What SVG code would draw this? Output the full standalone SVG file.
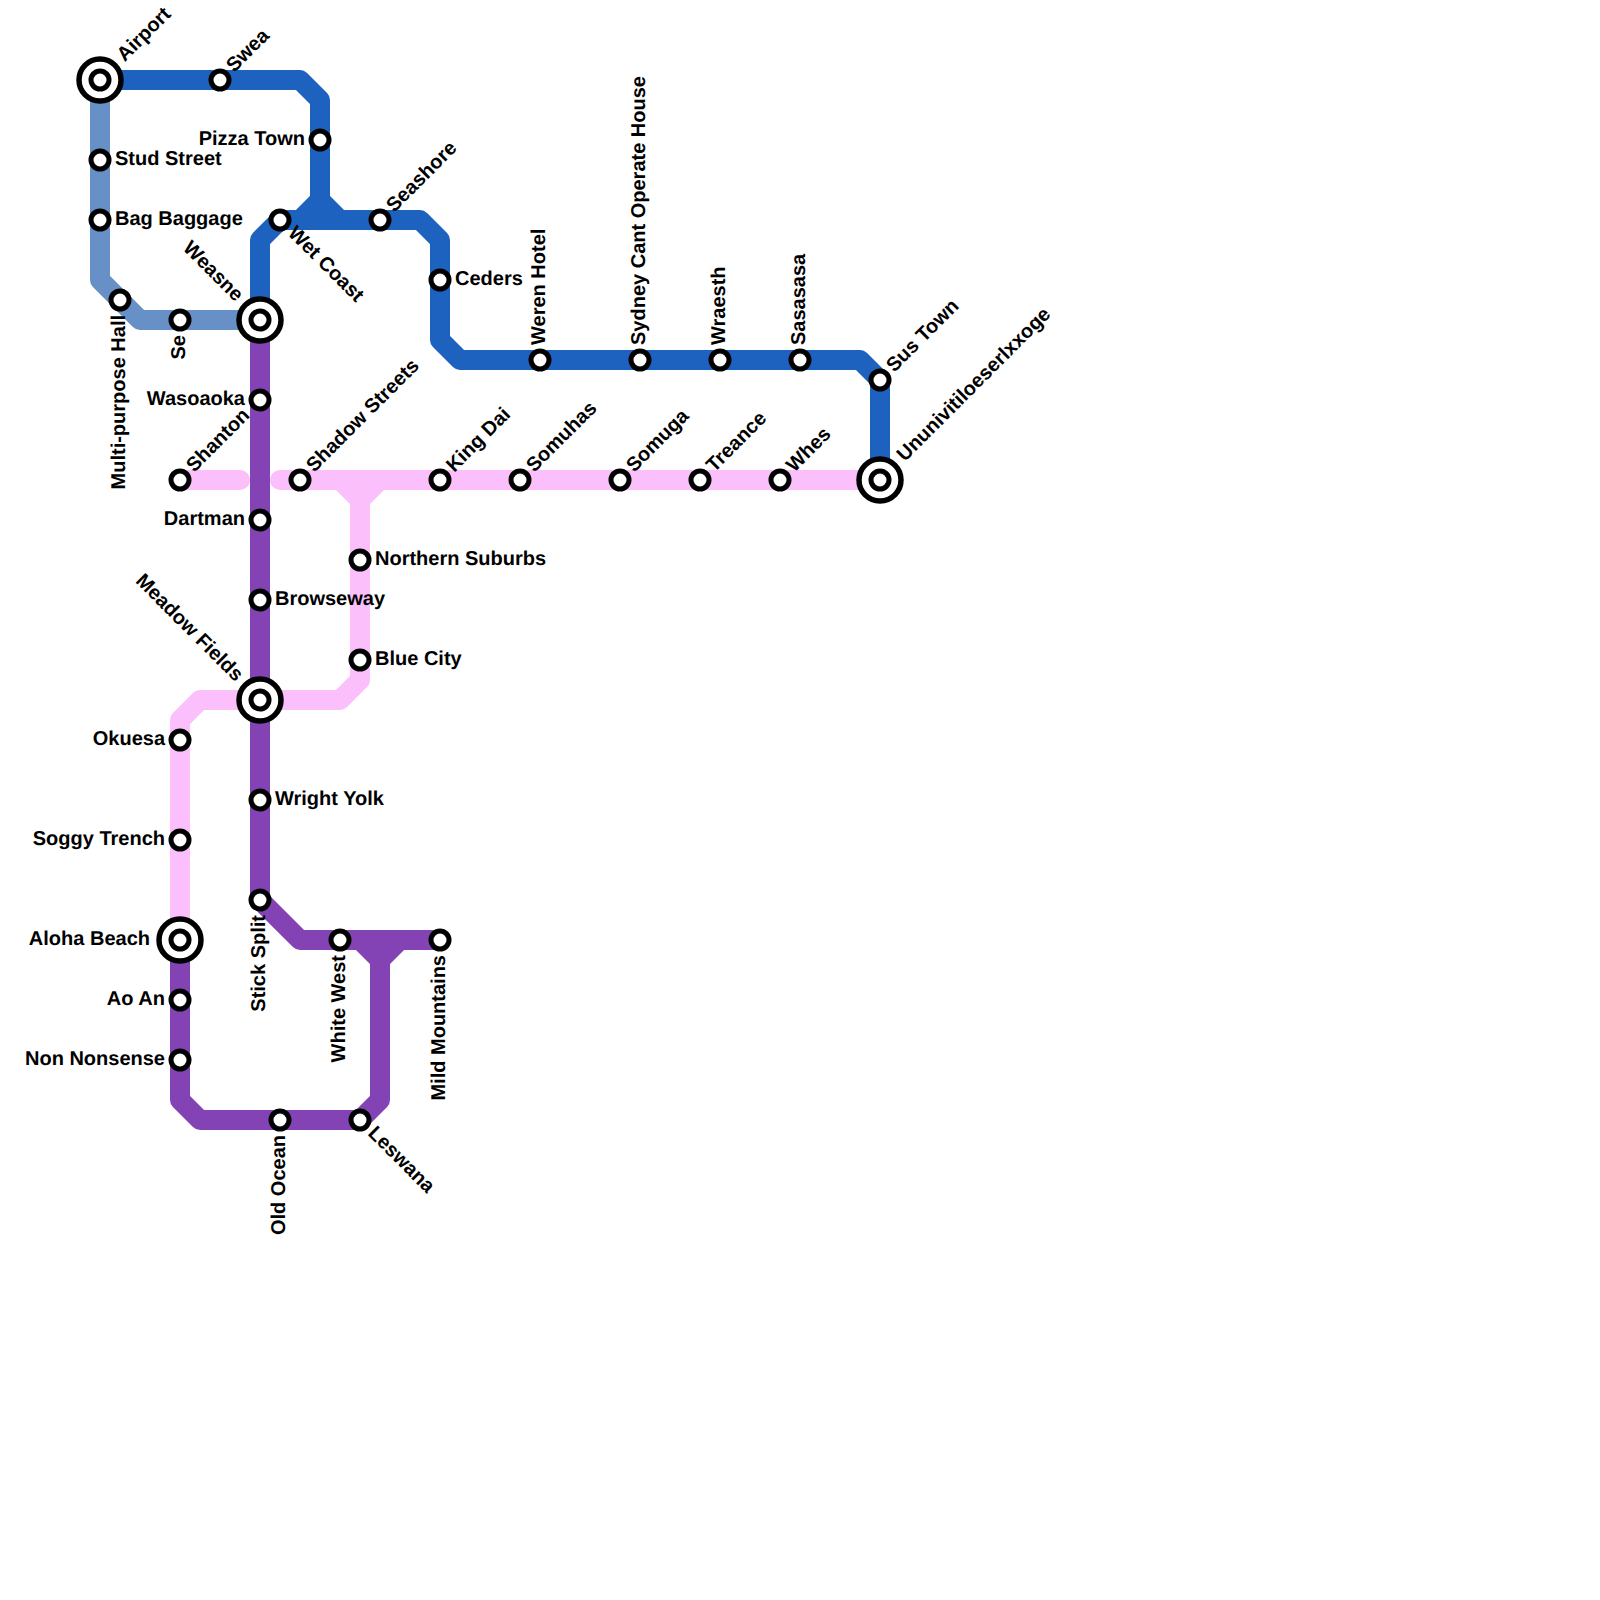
<svg xmlns="http://www.w3.org/2000/svg" width="1600" height="1600" viewBox="0 0 1600 1600">
<style>
.l{fill:none;stroke-width:20;stroke-linejoin:round;stroke-linecap:butt}
.c{stroke-linecap:round}
.b{stroke:#1c62be}.s{stroke:#6690c6}.p{stroke:#8343b4}.k{stroke:#fbbffc}
circle{fill:#fff;stroke:#000;stroke-width:5}
.o{stroke-width:5.5}
text{font-family:"Liberation Sans",Arial,sans-serif;font-size:20px;font-weight:bold;fill:#000;text-rendering:geometricPrecision}
.e{text-anchor:end}
</style>
<rect width="1600" height="1600" fill="#fff"/>
<g id="connectors">
<path class="l s" d="M100 80V280L140 320H260"/>
<path class="l b" d="M100 80H300L320 100V200L300 220"/>
<path class="l b" d="M260 320V240L280 220H420L440 240V340L460 360H860L880 380V480"/>
<path class="l b" d="M320 200L340 220"/>
<path class="l p" d="M260 320V900L300 940H440"/>
<path class="l p" d="M360 940L380 960V1100L360 1120H200L180 1100V940"/>
<path class="l p" d="M400 940L380 960"/>
<path class="l k c" d="M180 480H240"/>
<path class="l k c" d="M280 480H880"/>
<path class="l k" d="M340 480L360 500V680L340 700H200L180 720V940"/>
<path class="l k" d="M380 480L360 500"/>
</g>
<g id="n-airport" transform="translate(100 80)"><circle class="o" r="21"/><circle r="9"/><text transform="rotate(-45)" x="30" y="5">Airport</text></g>
<g id="n-swea" transform="translate(220 80)"><circle r="9"/><text transform="rotate(-45)" x="15" y="5">Swea</text></g>
<g id="n-pizza-town" transform="translate(320 140)"><circle r="9"/><text class="e" x="-15" y="5">Pizza Town</text></g>
<g id="n-stud-street" transform="translate(100 160)"><circle r="9"/><text x="15" y="5">Stud Street</text></g>
<g id="n-bag-baggage" transform="translate(100 220)"><circle r="9"/><text x="15" y="5">Bag Baggage</text></g>
<g id="n-wet-coast" transform="translate(280 220)"><circle r="9"/><text transform="rotate(45)" x="15" y="5">Wet Coast</text></g>
<g id="n-seashore" transform="translate(380 220)"><circle r="9"/><text transform="rotate(-45)" x="15" y="5">Seashore</text></g>
<g id="n-ceders" transform="translate(440 280)"><circle r="9"/><text x="15" y="5">Ceders</text></g>
<g id="n-multi-purpose-hall" transform="translate(120 300)"><circle r="9"/><text class="e" transform="rotate(-90)" x="-15" y="5">Multi-purpose Hall</text></g>
<g id="n-se" transform="translate(180 320)"><circle r="9"/><text class="e" transform="rotate(-90)" x="-15" y="5">Se</text></g>
<g id="n-weasne" transform="translate(260 320)"><circle class="o" r="21"/><circle r="9"/><text class="e" transform="rotate(45)" x="-30" y="5">Weasne</text></g>
<g id="n-weren-hotel" transform="translate(540 360)"><circle r="9"/><text transform="rotate(-90)" x="15" y="5">Weren Hotel</text></g>
<g id="n-sydney" transform="translate(640 360)"><circle r="9"/><text transform="rotate(-90)" x="15" y="5">Sydney Cant Operate House</text></g>
<g id="n-wraesth" transform="translate(720 360)"><circle r="9"/><text transform="rotate(-90)" x="15" y="5">Wraesth</text></g>
<g id="n-sasasasa" transform="translate(800 360)"><circle r="9"/><text transform="rotate(-90)" x="15" y="5">Sasasasa</text></g>
<g id="n-sus-town" transform="translate(880 380)"><circle r="9"/><text transform="rotate(-45)" x="15" y="5">Sus Town</text></g>
<g id="n-ununivitiloeserlxxoge" transform="translate(880 480)"><circle class="o" r="21"/><circle r="9"/><text transform="rotate(-45)" x="30" y="5">Ununivitiloeserlxxoge</text></g>
<g id="n-wasoaoka" transform="translate(260 400)"><circle r="9"/><text class="e" x="-15" y="5">Wasoaoka</text></g>
<g id="n-shanton" transform="translate(180 480)"><circle r="9"/><text transform="rotate(-45)" x="15" y="5">Shanton</text></g>
<g id="n-shadow-streets" transform="translate(300 480)"><circle r="9"/><text transform="rotate(-45)" x="15" y="5">Shadow Streets</text></g>
<g id="n-king-dai" transform="translate(440 480)"><circle r="9"/><text transform="rotate(-45)" x="15" y="5">King Dai</text></g>
<g id="n-somuhas" transform="translate(520 480)"><circle r="9"/><text transform="rotate(-45)" x="15" y="5">Somuhas</text></g>
<g id="n-somuga" transform="translate(620 480)"><circle r="9"/><text transform="rotate(-45)" x="15" y="5">Somuga</text></g>
<g id="n-treance" transform="translate(700 480)"><circle r="9"/><text transform="rotate(-45)" x="15" y="5">Treance</text></g>
<g id="n-whes" transform="translate(780 480)"><circle r="9"/><text transform="rotate(-45)" x="15" y="5">Whes</text></g>
<g id="n-dartman" transform="translate(260 520)"><circle r="9"/><text class="e" x="-15" y="5">Dartman</text></g>
<g id="n-northern-suburbs" transform="translate(360 560)"><circle r="9"/><text x="15" y="5">Northern Suburbs</text></g>
<g id="n-browseway" transform="translate(260 600)"><circle r="9"/><text x="15" y="5">Browseway</text></g>
<g id="n-blue-city" transform="translate(360 660)"><circle r="9"/><text x="15" y="5">Blue City</text></g>
<g id="n-meadow-fields" transform="translate(260 700)"><circle class="o" r="21"/><circle r="9"/><text class="e" transform="rotate(45)" x="-30" y="5">Meadow Fields</text></g>
<g id="n-okuesa" transform="translate(180 740)"><circle r="9"/><text class="e" x="-15" y="5">Okuesa</text></g>
<g id="n-wright-yolk" transform="translate(260 800)"><circle r="9"/><text x="15" y="5">Wright Yolk</text></g>
<g id="n-soggy-trench" transform="translate(180 840)"><circle r="9"/><text class="e" x="-15" y="5">Soggy Trench</text></g>
<g id="n-stick-split" transform="translate(260 900)"><circle r="9"/><text class="e" transform="rotate(-90)" x="-15" y="5">Stick Split</text></g>
<g id="n-aloha-beach" transform="translate(180 940)"><circle class="o" r="21"/><circle r="9"/><text class="e" x="-30" y="5">Aloha Beach</text></g>
<g id="n-white-west" transform="translate(340 940)"><circle r="9"/><text class="e" transform="rotate(-90)" x="-15" y="5">White West</text></g>
<g id="n-mild-mountains" transform="translate(440 940)"><circle r="9"/><text class="e" transform="rotate(-90)" x="-15" y="5">Mild Mountains</text></g>
<g id="n-ao-an" transform="translate(180 1000)"><circle r="9"/><text class="e" x="-15" y="5">Ao An</text></g>
<g id="n-non-nonsense" transform="translate(180 1060)"><circle r="9"/><text class="e" x="-15" y="5">Non Nonsense</text></g>
<g id="n-old-ocean" transform="translate(280 1120)"><circle r="9"/><text class="e" transform="rotate(-90)" x="-15" y="5">Old Ocean</text></g>
<g id="n-leswana" transform="translate(360 1120)"><circle r="9"/><text transform="rotate(45)" x="15" y="5">Leswana</text></g>
</svg>
